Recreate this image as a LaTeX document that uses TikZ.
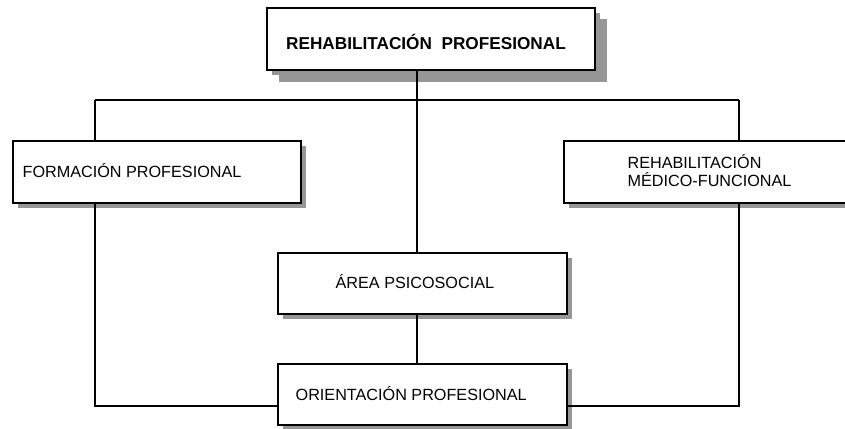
\documentclass[tikz,border=0pt]{standalone}
\usepackage{fontspec}
\setmainfont{Liberation Sans}
\usetikzlibrary{shadows}
\definecolor{shadowgray}{RGB}{150,150,150}
\begin{document}
\begin{tikzpicture}[x=1pt, y=-1pt,
  line width=1.3pt,
  box/.style={draw=black, fill=white, rectangle, inner sep=0pt,
    minimum height=62pt, minimum width=288pt,
    drop shadow={shadow xshift=5pt, shadow yshift=-5pt, fill=shadowgray, opacity=1}},
  bigbox/.style={box, minimum width=328pt,
    drop shadow={shadow xshift=11.5pt, shadow yshift=-11.5pt, fill=shadowgray, opacity=1}},
  txt/.style={inner sep=0pt, anchor=base west, align=left,
    font=\fontsize{16.2}{18}\selectfont},
  headtxt/.style={inner sep=0pt, anchor=base,
    font=\fontsize{17.2}{20}\selectfont\bfseries},
  link/.style={draw=black, line width=1.3pt}
]
\useasboundingbox (0,0) rectangle (845,428);
\clip (0,0) rectangle (845,428);

% boxes
\node[bigbox] (top) at (431,39) {};
\node[box] (fp) at (157,172) {};
\node[box] (rm) at (708,172) {};
\node[box, minimum width=289pt, minimum height=61pt] (ps) at (422.5,283.5) {};
\node[box, minimum width=289pt, minimum height=61pt] (op) at (422.5,394.5) {};

% texts (the two-line label is anchored at its last baseline)
\node[headtxt] (toptxt) at (426,49.5) {REHABILITACIÓN\ \ PROFESIONAL};
\node[txt] (fptxt) at (22,177.3) {FORMACIÓN PROFESIONAL};
\node[txt] (rmtxt) at (627,186.3) {REHABILITACIÓN\\MÉDICO-FUNCIONAL};
\node[txt] (pstxt) at (335,288.3) {ÁREA PSICOSOCIAL};
\node[txt] (optxt) at (295,400) {ORIENTACIÓN PROFESIONAL};

% junction points of the connectors
\coordinate (hub) at (417,100);
\coordinate (lt) at (95,100);
\coordinate (rt) at (739,100);
\coordinate (lb) at (95,406);
\coordinate (rb) at (739,406);

% connectors
\draw[link] (top.south -| hub) -- (hub);
\draw[link] (lt) -- (rt);
\draw[link] (lt) -- (fp.north -| lt);
\draw[link] (rt) -- (rm.north -| rt);
\draw[link] (hub) -- (ps.north -| hub);
\draw[link] (ps.south -| hub) -- (op.north -| hub);
\draw[link] (fp.south -| lb) -- (lb) -- (op.west |- lb);
\draw[link] (rm.south -| rb) -- (rb) -- (op.east |- rb);
\end{tikzpicture}
\end{document}
